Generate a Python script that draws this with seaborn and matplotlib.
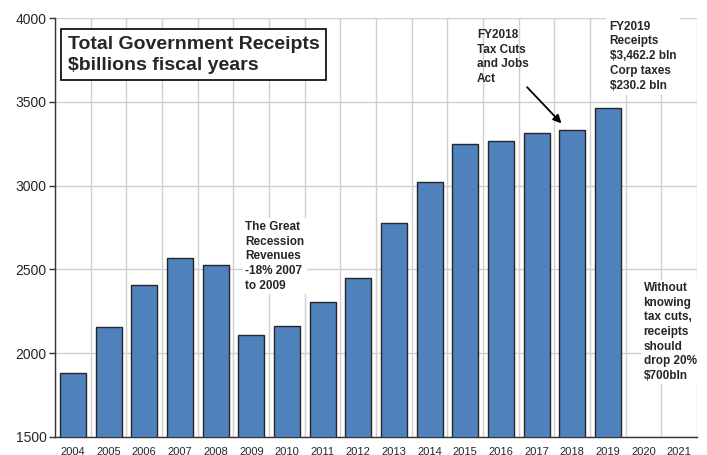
import matplotlib
matplotlib.use("Agg")
import matplotlib.pyplot as plt
import seaborn as sns
import pandas as pd
import numpy as np

years = [str(y) for y in range(2004, 2022)]
data_years = [str(y) for y in range(2004, 2020)]
receipts = [1880.1, 2153.6, 2406.9, 2568.0, 2524.0, 2105.0, 2162.7, 2303.5,
            2450.0, 2775.1, 3021.5, 3249.9, 3268.0, 3316.2, 3329.9, 3462.2]
yticks = [1500, 2000, 2500, 3000, 3500, 4000]

sns.set_theme(style="white")
plt.rcParams['font.family'] = ['Liberation Sans', 'DejaVu Sans']

df = pd.DataFrame({"year": data_years, "receipts": receipts})

fig = plt.figure(figsize=(7.07, 4.55), dpi=100)
ax = fig.add_axes([0.078, 0.040, 0.908, 0.920])

sns.barplot(data=df, x="year", y="receipts", order=years, color="#4F81BD",
            saturation=1, width=0.73, edgecolor="#262626", linewidth=1.0, ax=ax, zorder=3)

ax.set_ylim(1500, 4000)
ax.set_xlim(-0.5, len(years) - 0.5)
ax.set_yticks(yticks)
ax.set_yticklabels([str(v) for v in yticks], fontsize=10)
ax.set_xticks(range(len(years)))
ax.set_xticklabels(years, fontsize=8)
ax.set_xticks(np.arange(-0.5, len(years), 1.0), minor=True)
ax.set_xlabel("")
ax.set_ylabel("")

ax.grid(True, axis="y", which="major", color="#D0D0D0", linewidth=1.0, zorder=0)
ax.grid(True, axis="x", which="minor", color="#D0D0D0", linewidth=1.0, zorder=0)
ax.grid(False, axis="x", which="major")
ax.set_axisbelow(True)

for s in ["top", "right"]:
    ax.spines[s].set_visible(False)
for s in ["left", "bottom"]:
    ax.spines[s].set_color("#333333")
    ax.spines[s].set_linewidth(1.0)
ax.tick_params(axis="y", which="major", left=True, length=4, width=1, color="#333333", pad=2)
ax.tick_params(axis="x", which="both", bottom=False, pad=1)

# Title box
ax.text(-0.15, 3895, "Total Government Receipts\n$billions fiscal years",
        fontsize=14, fontweight="bold",
        ha="left", va="top", linespacing=1.3, zorder=6,
        bbox=dict(boxstyle="square,pad=0.35", facecolor="white", edgecolor="black", linewidth=1.2))

ann_kw = dict(fontsize=8.5, fontweight="bold", ha="left", va="top", linespacing=1.3, zorder=6)

ax.text(11.33, 3935, "FY2018\nTax Cuts\nand Jobs\nAct", **ann_kw)
ax.text(15.05, 3985, "FY2019\nReceipts\n$3,462.2 bln\nCorp taxes\n$230.2 bln",
        bbox=dict(boxstyle="square,pad=0.3", facecolor="white", edgecolor="none"), **ann_kw)
ax.text(4.83, 2790, "The Great\nRecession\nRevenues\n-18% 2007\nto 2009",
        bbox=dict(boxstyle="square,pad=0.2", facecolor="white", edgecolor="none"), **ann_kw)
ax.text(16.0, 2425, "Without\nknowing\ntax cuts,\nreceipts\nshould\ndrop 20%\n$700bln",
        bbox=dict(boxstyle="square,pad=0.2", facecolor="white", edgecolor="none"), **ann_kw)

ax.annotate("", xy=(13.75, 3360), xytext=(12.68, 3600),
            arrowprops=dict(arrowstyle="-|>", color="black", lw=1.3, mutation_scale=12), zorder=7)

fig.savefig("out.png", dpi=100)
